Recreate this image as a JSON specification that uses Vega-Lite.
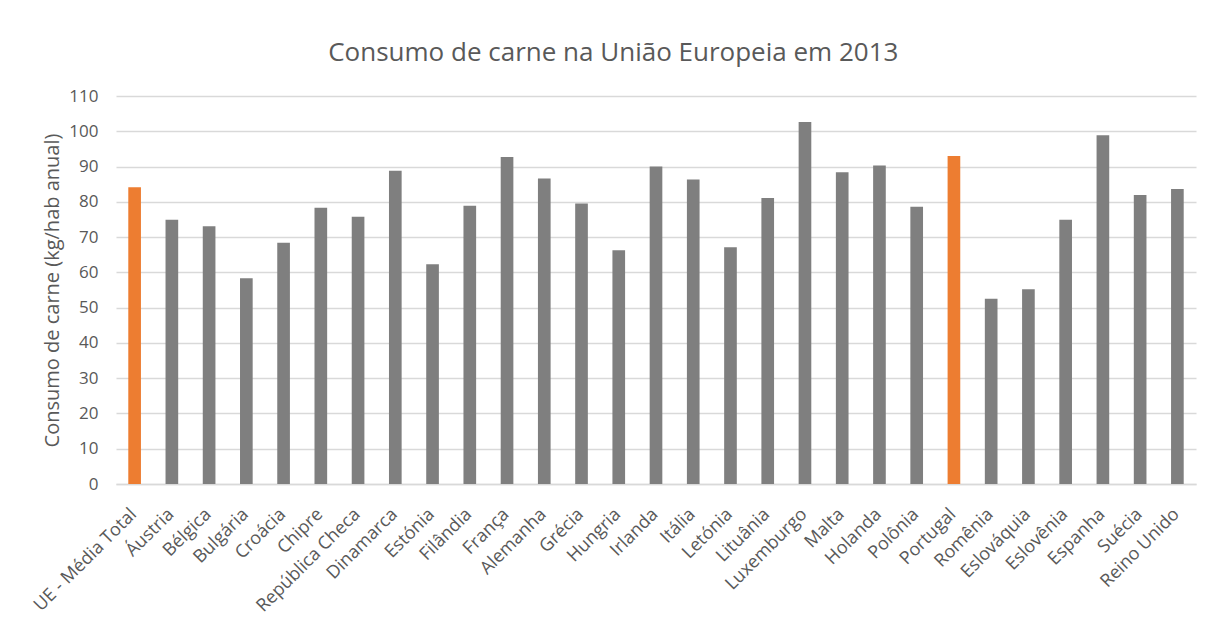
{
  "$schema": "https://vega.github.io/schema/vega-lite/v6.json",
  "width": 1080,
  "height": 388,
  "padding": {"left": 30, "top": 40, "right": 10, "bottom": 5},
  "background": "white",
  "title": {
    "text": "Consumo de carne na União Europeia em 2013",
    "font": "Open Sans",
    "fontSize": 26,
    "fontWeight": "normal",
    "color": "#595959",
    "anchor": "middle",
    "frame": "bounds",
    "offset": 21
  },
  "data": {
    "values": [
      {"pais": "UE - Média Total", "consumo": 84.1},
      {"pais": "Áustria", "consumo": 74.9},
      {"pais": "Bélgica", "consumo": 73.1},
      {"pais": "Bulgária", "consumo": 58.3},
      {"pais": "Croácia", "consumo": 68.4},
      {"pais": "Chipre", "consumo": 78.3},
      {"pais": "República Checa", "consumo": 75.8},
      {"pais": "Dinamarca", "consumo": 88.8},
      {"pais": "Estónia", "consumo": 62.3},
      {"pais": "Filândia", "consumo": 78.9},
      {"pais": "França", "consumo": 92.7},
      {"pais": "Alemanha", "consumo": 86.6},
      {"pais": "Grécia", "consumo": 79.5},
      {"pais": "Hungria", "consumo": 66.3},
      {"pais": "Irlanda", "consumo": 90.0},
      {"pais": "Itália", "consumo": 86.3},
      {"pais": "Letónia", "consumo": 67.1},
      {"pais": "Lituânia", "consumo": 81.1},
      {"pais": "Luxemburgo", "consumo": 102.6},
      {"pais": "Malta", "consumo": 88.4},
      {"pais": "Holanda", "consumo": 90.3},
      {"pais": "Polônia", "consumo": 78.6},
      {"pais": "Portugal", "consumo": 93.0},
      {"pais": "Romênia", "consumo": 52.5},
      {"pais": "Eslováquia", "consumo": 55.2},
      {"pais": "Eslovênia", "consumo": 74.9},
      {"pais": "Espanha", "consumo": 98.9},
      {"pais": "Suécia", "consumo": 81.9},
      {"pais": "Reino Unido", "consumo": 83.6}
    ]
  },
  "mark": {"type": "bar", "width": {"band": 0.34}},
  "encoding": {
    "x": {
      "field": "pais",
      "type": "nominal",
      "sort": null,
      "scale": {"paddingInner": 0, "paddingOuter": 0},
      "axis": {
        "title": null,
        "labelAngle": -45,
        "labelFont": "Open Sans",
        "labelFontSize": 18,
        "labelColor": "#595959",
        "labelPadding": 21,
        "labelOffset": -7,
        "ticks": false,
        "domainColor": "#d9d9d9",
        "domainWidth": 1.5
      }
    },
    "y": {
      "field": "consumo",
      "type": "quantitative",
      "scale": {"domain": [0, 110], "nice": false},
      "axis": {
        "title": "Consumo de carne (kg/hab anual)",
        "titleFont": "Open Sans",
        "titleFontSize": 20,
        "titleFontWeight": "normal",
        "titleColor": "#595959",
        "titlePadding": 6,
        "values": [0, 10, 20, 30, 40, 50, 60, 70, 80, 90, 100, 110],
        "labelFont": "Open Sans",
        "labelFontSize": 17,
        "labelColor": "#595959",
        "labelPadding": 18,
        "ticks": false,
        "domain": false,
        "gridColor": "#d9d9d9",
        "gridWidth": 1.5
      }
    },
    "color": {
      "condition": {"test": "datum.pais === 'UE - Média Total' || datum.pais === 'Portugal'", "value": "#ed7d31"},
      "value": "#7f7f7f"
    }
  },
  "config": {"view": {"stroke": null}}
}
